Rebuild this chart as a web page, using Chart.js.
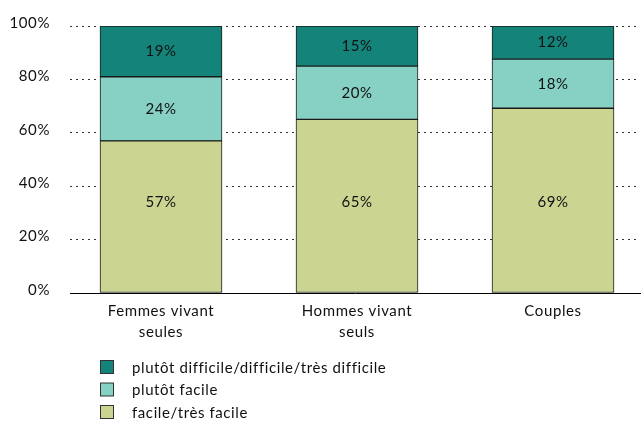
<!DOCTYPE html>
<html>
<head>
<meta charset="utf-8">
<script src="https://cdn.jsdelivr.net/npm/chart.js@4"></script>
<style>
  html, body { margin: 0; padding: 0; background: #fff; }
  #wrap { width: 641px; height: 422px; position: relative; }
</style>
</head>
<body>
<div id="wrap"><canvas id="c" width="641" height="422"></canvas></div>
<script>
const categories = [["Femmes vivant", "seules"], ["Hommes vivant", "seuls"], ["Couples"]];
const facile = [57, 65, 69.2];
const plutotFacile = [24, 20, 18.4];
const difficile = [19, 15, 12.4];
const seriesNames = ["facile/très facile", "plutôt facile", "plutôt difficile/difficile/très difficile"];
const seriesColors = ["#CCD492", "#86D0C4", "#14847A"];
const yTicks = [0, 20, 40, 60, 80, 100];

const FONT = "Lato, 'Open Sans', sans-serif";
const FS = 15;
const toPoints = arr => arr.map((v, i) => ({ x: i, y: v }));

const datasets = [facile, plutotFacile, difficile].map((vals, k) => ({
  label: seriesNames[k],
  data: toPoints(vals),
  backgroundColor: seriesColors[k],
  borderColor: "#1a1a1a",
  borderWidth: 1,
  borderSkipped: false,
  barThickness: 122,
  labelAt: k === 0 ? 34 : null
}));

const spacing = {
  id: "spacing",
  beforeDraw(chart) { chart.ctx.letterSpacing = "0.6px"; }
};

const segmentLabels = {
  id: "segmentLabels",
  afterDatasetsDraw(chart) {
    const ctx = chart.ctx;
    const ys = chart.scales.y;
    ctx.save();
    ctx.letterSpacing = "0.6px";
    ctx.font = FS + "px " + FONT;
    ctx.fillStyle = "#111";
    ctx.textAlign = "center";
    ctx.textBaseline = "middle";
    chart.data.datasets.forEach((ds, di) => {
      const meta = chart.getDatasetMeta(di);
      meta.data.forEach((bar, i) => {
        const p = bar.getProps(["x", "y", "base"], true);
        const y = ds.labelAt != null ? ys.getPixelForValue(ds.labelAt) : (p.y + p.base) / 2;
        ctx.fillText(Math.round(ds.data[i].y) + "%", p.x, y);
      });
    });
    ctx.restore();
  }
};

const customLegend = {
  id: "customLegend",
  afterDraw(chart) {
    const ctx = chart.ctx;
    ctx.save();
    ctx.letterSpacing = "0.6px";
    ctx.font = FS + "px " + FONT;
    ctx.textBaseline = "middle";
    ctx.textAlign = "left";
    const order = chart.data.datasets.map((d, i) => i).reverse();
    order.forEach((di, row) => {
      const ds = chart.data.datasets[di];
      const cy = 367 + row * 22.5;
      ctx.fillStyle = ds.backgroundColor;
      ctx.fillRect(100.5, cy - 6.5, 13, 13);
      ctx.strokeStyle = "#333";
      ctx.lineWidth = 1;
      ctx.strokeRect(100.5, cy - 6.5, 13, 13);
      ctx.fillStyle = "#111";
      ctx.fillText(ds.label, 132, cy + 1);
    });
    ctx.restore();
  }
};

new Chart(document.getElementById("c"), {
  type: "bar",
  data: { datasets },
  options: {
    responsive: false,
    animation: false,
    layout: { padding: { top: 26, right: 1, left: 0, bottom: 0 } },
    plugins: { legend: { display: false }, tooltip: { enabled: false } },
    scales: {
      x: {
        type: "linear",
        stacked: true,
        offset: false,
        min: -0.4643,
        max: 2.4439,
        afterBuildTicks: s => { s.ticks = categories.map((_, i) => ({ value: i })); },
        afterFit: s => { s.height = 129; },
        grid: { display: false },
        border: { display: true, color: "#000", width: 1 },
        ticks: {
          autoSkip: false,
          maxRotation: 0,
          padding: -1,
          color: "#111",
          font: { family: FONT, size: FS, lineHeight: 1.45 },
          callback: v => categories[v] || ""
        }
      },
      y: {
        stacked: true,
        min: 0,
        max: 100,
        afterBuildTicks: s => { s.ticks = yTicks.map(v => ({ value: v })); },
        afterFit: s => { s.width = 70; },
        border: { display: false, dash: [2, 4] },
        grid: {
          color: "#333",
          lineWidth: 1,
          drawTicks: true,
          tickLength: 20,
          tickColor: "rgba(0,0,0,0)"
        },
        ticks: {
          padding: 0,
          labelOffset: -3,
          color: "#111",
          font: { family: FONT, size: FS },
          callback: v => v + "%"
        }
      }
    }
  },
  plugins: [spacing, segmentLabels, customLegend]
});
</script>
</body>
</html>
